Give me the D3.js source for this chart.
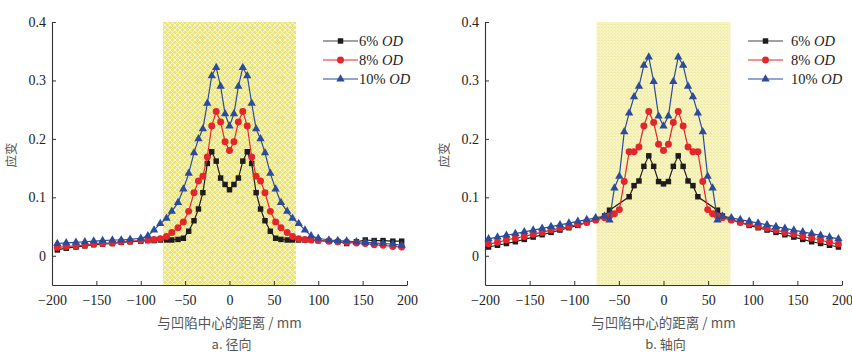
<!DOCTYPE html>
<html lang="zh">
<head>
  <meta charset="utf-8">
  <title>应变分布</title>
  <style>
    body { margin: 0; background: #fff; }
    svg text { font-family: "Liberation Serif", "Times New Roman", "DejaVu Serif", serif; fill: #222; }
    svg text.cn { font-family: "Noto Sans CJK SC", sans-serif; fill: #555; }
    .axis path, .axis line { stroke: #333; }
    .axis text { font-size: 14px; fill: #222; }
  </style>
</head>
<body>
  <svg width="852" height="352"></svg>
  <script src="https://cdn.jsdelivr.net/npm/d3@7"></script>
  <script>
    // ---- data ----
    var radialX = [-194, -184, -173, -163, -153, -143, -132, -122, -112, -100, -92, -85, -78, -71, -65, -58, -52, -46, -40, -35, -30, -25, -20, -15, -10, -5,
      0,
      5, 10, 15, 20, 25, 30, 35, 40, 46, 52, 58, 65, 71, 78, 85, 92, 100, 112, 122, 132, 143, 153, 163, 173, 184, 194];
    var radial6 = [0.010, 0.013, 0.015, 0.017, 0.019, 0.020, 0.021, 0.023, 0.024, 0.025, 0.026, 0.026, 0.027, 0.027, 0.027, 0.028, 0.030, 0.042, 0.060, 0.080, 0.108, 0.158, 0.178, 0.162, 0.133, 0.122,
      0.113,
      0.122, 0.133, 0.162, 0.178, 0.158, 0.108, 0.080, 0.060, 0.042, 0.030, 0.028, 0.027, 0.027, 0.027, 0.027, 0.027, 0.026, 0.025, 0.024, 0.021, 0.024, 0.027, 0.026, 0.026, 0.025, 0.025];
    var radial8 = [0.014, 0.016, 0.017, 0.018, 0.020, 0.021, 0.022, 0.024, 0.025, 0.026, 0.027, 0.028, 0.029, 0.033, 0.040, 0.048, 0.058, 0.076, 0.108, 0.128, 0.136, 0.169, 0.222, 0.247, 0.229, 0.195,
      0.180,
      0.195, 0.229, 0.247, 0.222, 0.169, 0.136, 0.128, 0.108, 0.076, 0.058, 0.048, 0.040, 0.033, 0.029, 0.028, 0.027, 0.026, 0.025, 0.024, 0.023, 0.022, 0.021, 0.019, 0.018, 0.016, 0.015];
    var radial10 = [0.021, 0.022, 0.023, 0.024, 0.025, 0.026, 0.027, 0.027, 0.028, 0.030, 0.034, 0.044, 0.055, 0.064, 0.076, 0.091, 0.114, 0.141, 0.176, 0.200, 0.217, 0.261, 0.308, 0.322, 0.290, 0.243,
      0.222,
      0.243, 0.290, 0.322, 0.308, 0.261, 0.217, 0.200, 0.176, 0.141, 0.114, 0.091, 0.076, 0.064, 0.055, 0.044, 0.034, 0.030, 0.027, 0.026, 0.025, 0.024, 0.023, 0.022, 0.021, 0.020, 0.018];

    var axialX = [-196, -186, -176, -166, -156, -146, -136, -126, -116, -106, -96, -86, -76, -66, -60.5, -55, -49.5, -44, -38.5, -33, -27.5, -22, -16.5, -11, -5.5,
      0,
      5.5, 11, 16.5, 22, 27.5, 33, 38.5, 44, 49.5, 55, 60.5, 66, 76, 86, 96, 106, 116, 126, 136, 146, 156, 166, 176, 186, 196];
    // null = no sample at that node (the line runs straight across)
    var axial6 = [0.015, 0.018, 0.021, 0.024, 0.028, 0.032, 0.036, 0.040, 0.044, 0.048, 0.052, 0.057, 0.062, 0.068, 0.078, null, null, null, 0.101, 0.120, 0.128, 0.153, 0.171, 0.153, 0.127,
      0.123,
      0.127, 0.153, 0.171, 0.153, 0.128, 0.120, 0.101, null, null, null, 0.078, 0.068, 0.062, 0.057, 0.052, 0.048, 0.044, 0.040, 0.036, 0.032, 0.028, 0.024, 0.021, 0.018, 0.015];
    var axial8 = [0.020, 0.023, 0.027, 0.030, 0.033, 0.037, 0.040, 0.044, 0.047, 0.050, 0.054, 0.057, 0.061, 0.065, 0.068, 0.072, 0.079, 0.127, 0.178, 0.178, 0.186, 0.222, 0.247, 0.228, 0.191,
      0.180,
      0.191, 0.228, 0.247, 0.222, 0.186, 0.178, 0.178, 0.127, 0.079, 0.072, 0.068, 0.065, 0.061, 0.057, 0.054, 0.050, 0.047, 0.044, 0.040, 0.037, 0.033, 0.030, 0.027, 0.023, 0.020];
    var axial10 = [0.029, 0.032, 0.035, 0.038, 0.041, 0.044, 0.047, 0.050, 0.053, 0.056, 0.059, 0.062, 0.065, 0.068, 0.061, 0.116, 0.136, 0.212, 0.244, 0.272, 0.290, 0.326, 0.340, 0.298, 0.239,
      0.222,
      0.239, 0.298, 0.340, 0.326, 0.290, 0.272, 0.244, 0.212, 0.136, 0.116, 0.061, 0.068, 0.065, 0.062, 0.059, 0.056, 0.053, 0.050, 0.047, 0.044, 0.041, 0.038, 0.035, 0.032, 0.029];

    var seriesPct = ["6%", "8%", "10%"];
    var xTicks = [-200, -150, -100, -50, 0, 50, 100, 150, 200];
    var yTicks = [0, 0.1, 0.2, 0.3, 0.4];
    var xDomain = [-200, 200];
    var yDomain = [-0.05, 0.4];
    var bandRange = [-75, 75];

    const serif = "'Liberation Serif', 'Times New Roman', 'DejaVu Serif', serif";
    const svg = d3.select("svg");
    const defs = svg.append("defs");

    var colors = ["#1e1c1c", "#e3262c", "#2c4b9a"];
    var symbols = [d3.symbolSquare, d3.symbolCircle, d3.symbolTriangle];
    var symSizes = [30, 38, 30];

    // crosshatch fills for the yellow band
    function hatch(id, s, base) {
      var p = defs.append("pattern")
        .attr("id", id)
        .attr("patternUnits", "userSpaceOnUse")
        .attr("width", s).attr("height", s);
      p.append("rect").attr("width", s).attr("height", s).attr("fill", base);
      p.append("path")
        .attr("d", "M0,0L" + s + "," + s + "M" + s + ",0L0," + s)
        .attr("stroke", "#fbf9de").attr("stroke-width", 0.9);
    }
    hatch("hatchA", 5, "#ebe47a");
    hatch("hatchB", 3.2, "#ede787");

    function drawPanel(opts) {
      var x = d3.scaleLinear().domain(xDomain).range([opts.left, opts.right]);
      var y = d3.scaleLinear().domain(yDomain).range([285, 22]);
      var g = svg.append("g");

      g.append("rect")
        .attr("x", x(bandRange[0]))
        .attr("y", y(yDomain[1]))
        .attr("width", x(bandRange[1]) - x(bandRange[0]))
        .attr("height", y(yDomain[0]) - y(yDomain[1]))
        .attr("fill", "url(#" + opts.pattern + ")");

      g.append("g")
        .attr("class", "axis")
        .attr("transform", "translate(0,285)")
        .call(d3.axisBottom(x).tickValues(xTicks).tickSize(-4).tickSizeOuter(0).tickPadding(10)
          .tickFormat(d3.format("d")))
        .attr("font-family", serif);

      g.append("g")
        .attr("class", "axis")
        .attr("transform", "translate(" + opts.left + ",0)")
        .call(d3.axisLeft(y).tickValues(yTicks).tickSize(-4).tickSizeOuter(0).tickPadding(6)
          .tickFormat(function (d) { return d === 0 ? "0" : d3.format(".1f")(d); }))
        .attr("font-family", serif);

      g.selectAll(".axis text").style("font-family", serif);
      g.selectAll(".axis .domain").attr("stroke-width", 1.1);

      var line = d3.line()
        .x(function (d) { return x(d[0]); })
        .y(function (d) { return y(d[1]); });

      opts.series.forEach(function (vals, i) {
        var pts = opts.xs.map(function (xv, k) { return [xv, vals[k]]; })
          .filter(function (d) { return d[1] !== null; });
        g.append("path")
          .attr("d", line(pts))
          .attr("fill", "none")
          .attr("stroke", colors[i])
          .attr("stroke-width", 1.2);
        g.selectAll(null)
          .data(pts)
          .enter().append("path")
          .attr("transform", function (d) { return "translate(" + x(d[0]) + "," + y(d[1]) + ")"; })
          .attr("d", d3.symbol().type(symbols[i]).size(symSizes[i]))
          .attr("fill", colors[i]);
      });

      // legend
      seriesPct.forEach(function (p, i) {
        var ly = 41 + i * 19;
        var lg = g.append("g");
        lg.append("line")
          .attr("x1", opts.legX).attr("x2", opts.legX + 35)
          .attr("y1", ly).attr("y2", ly)
          .attr("stroke", i === 0 ? "#444" : colors[i]).attr("stroke-width", 1.2);
        lg.append("path")
          .attr("transform", "translate(" + (opts.legX + 17.5) + "," + ly + ")")
          .attr("d", d3.symbol().type(symbols[i]).size(symSizes[i]))
          .attr("fill", colors[i]);
        var t = lg.append("text")
          .attr("x", opts.legX + opts.legGap)
          .attr("y", ly + 5)
          .style("font-family", serif)
          .style("font-size", "14.5px");
        t.append("tspan").text(p + " ");
        t.append("tspan").style("font-style", "italic").text("OD");
      });

      var cx = (opts.left + opts.right) / 2;
      g.append("text")
        .attr("class", "cn")
        .attr("x", cx).attr("y", 328)
        .attr("text-anchor", "middle")
        .style("font-size", "13.5px")
        .text("与凹陷中心的距离 / mm");
      g.append("text")
        .attr("class", "cn")
        .attr("x", cx + 2).attr("y", 349)
        .attr("text-anchor", "middle")
        .style("font-size", "13px")
        .text(opts.caption);
      g.append("text")
        .attr("class", "cn")
        .attr("transform", "translate(" + (opts.left - 36) + ",155) rotate(-90)")
        .attr("text-anchor", "middle")
        .style("font-size", "12.5px")
        .text("应变");
    }

    drawPanel({
      left: 52, right: 407, pattern: "hatchA",
      xs: radialX, series: [radial6, radial8, radial10],
      legX: 323, legGap: 36, caption: "a. 径向"
    });
    drawPanel({
      left: 485, right: 842, pattern: "hatchB",
      xs: axialX, series: [axial6, axial8, axial10],
      legX: 748, legGap: 43, caption: "b. 轴向"
    });
  </script>
</body>
</html>
